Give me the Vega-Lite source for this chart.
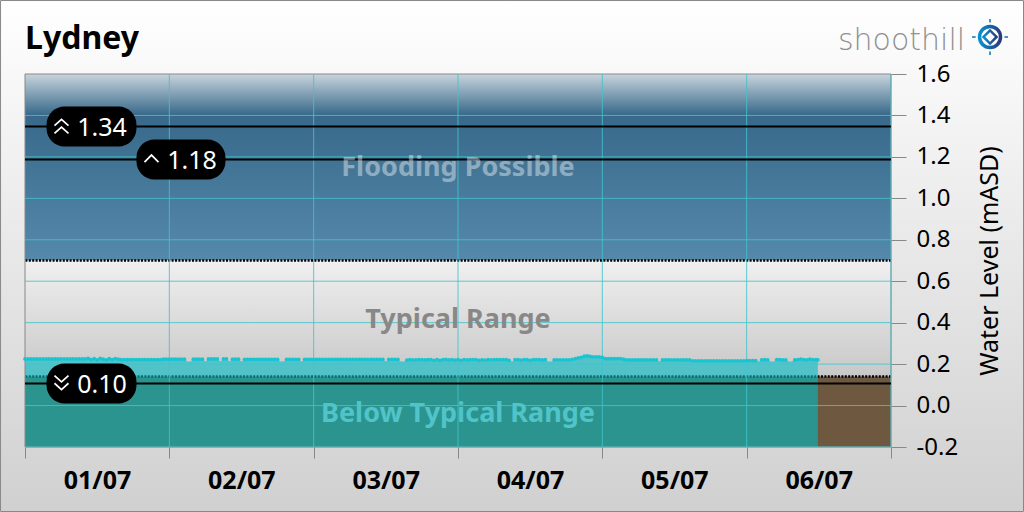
{"$schema":"https://vega.github.io/schema/vega-lite/v6.json","width":866,"height":373,"autosize":{"type":"none"},"padding":{"left":25,"top":74,"right":133,"bottom":65},
"title":{"text":"Lydney","anchor":"start","frame":"group","font":"Noto Sans","fontWeight":"bold","fontSize":32,"color":"#000000","offset":-56},
"config":{"view":{"stroke":null},"font":"Noto Sans"},
"datasets":{
"panel":[{"a":"2021-06-30T19:56:00Z","b":"2021-07-07T22:02:00Z","lo":-0.5113,"hi":1.9546}],
"bands":[{"lo":0.7,"hi":1.6,"zone":"flood"},{"lo":0.14,"hi":0.7,"zone":"typical"},{"lo":-0.2,"hi":0.14,"zone":"below"},{"lo":-0.2,"hi":1.6,"zone":"frame"}],
"dotted":[{"v":0.7},{"v":0.14}],
"gridx":[{"t":"2021-07-02T00:00Z"},{"t":"2021-07-03T00:00Z"},{"t":"2021-07-04T00:00Z"},{"t":"2021-07-05T00:00Z"},{"t":"2021-07-06T00:00Z"},{"t":"2021-07-07T00:00Z"}],
"gridy":[{"v":-0.2},{"v":0},{"v":0.2},{"v":0.4},{"v":0.6},{"v":0.8},{"v":1.0},{"v":1.2},{"v":1.4}],
"thresholds":[{"v":1.347},{"v":1.187},{"v":0.106}],
"zones":[{"t":"2021-07-04T00:00Z","v":1.15,"label":"Flooding Possible","c":"flood"},{"t":"2021-07-04T00:00Z","v":0.42,"label":"Typical Range","c":"typical"},{"t":"2021-07-04T00:00Z","v":-0.035,"label":"Below Typical Range","c":"below"}],
"pills":[{"a":"2021-07-01T03:35Z","b":"2021-07-01T18:32Z","lo":1.2505,"hi":1.4435,"tc":"2021-07-01T12:48Z","v":1.347,"label":"1.34"},{"a":"2021-07-01T18:32Z","b":"2021-07-02T09:20Z","lo":1.0905,"hi":1.2835,"tc":"2021-07-02T03:46Z","v":1.187,"label":"1.18"},{"a":"2021-07-01T03:35Z","b":"2021-07-01T18:32Z","lo":0.0095,"hi":0.2025,"tc":"2021-07-01T12:48Z","v":0.106,"label":"0.10"}],
"water":[
{"t":"2021-07-01T00:00Z","v":0.225},{"t":"2021-07-01T00:30Z","v":0.225},{"t":"2021-07-01T01:00Z","v":0.225},{"t":"2021-07-01T01:30Z","v":0.225},{"t":"2021-07-01T02:00Z","v":0.225},{"t":"2021-07-01T02:30Z","v":0.225},{"t":"2021-07-01T03:00Z","v":0.225},{"t":"2021-07-01T03:30Z","v":0.225},{"t":"2021-07-01T04:00Z","v":0.225},{"t":"2021-07-01T04:30Z","v":0.225},{"t":"2021-07-01T05:00Z","v":0.225},{"t":"2021-07-01T05:30Z","v":0.225},{"t":"2021-07-01T06:00Z","v":0.225},{"t":"2021-07-01T06:30Z","v":0.225},{"t":"2021-07-01T07:00Z","v":0.225},{"t":"2021-07-01T07:30Z","v":0.225},{"t":"2021-07-01T08:00Z","v":0.225},{"t":"2021-07-01T08:30Z","v":0.225},{"t":"2021-07-01T09:00Z","v":0.225},{"t":"2021-07-01T09:30Z","v":0.225},{"t":"2021-07-01T10:00Z","v":0.225},{"t":"2021-07-01T10:30Z","v":0.228},{"t":"2021-07-01T11:00Z","v":0.222},{"t":"2021-07-01T11:30Z","v":0.226},{"t":"2021-07-01T12:00Z","v":0.22},{"t":"2021-07-01T12:30Z","v":0.228},{"t":"2021-07-01T13:00Z","v":0.224},{"t":"2021-07-01T13:30Z","v":0.22},{"t":"2021-07-01T14:00Z","v":0.226},{"t":"2021-07-01T14:30Z","v":0.222},{"t":"2021-07-01T15:00Z","v":0.226},{"t":"2021-07-01T15:30Z","v":0.224},{"t":"2021-07-01T16:00Z","v":0.222},{"t":"2021-07-01T16:30Z","v":0.222},{"t":"2021-07-01T17:00Z","v":0.222},{"t":"2021-07-01T17:30Z","v":0.222},{"t":"2021-07-01T18:00Z","v":0.222},{"t":"2021-07-01T18:30Z","v":0.222},{"t":"2021-07-01T19:00Z","v":0.222},{"t":"2021-07-01T19:30Z","v":0.222},{"t":"2021-07-01T20:00Z","v":0.222},{"t":"2021-07-01T20:30Z","v":0.222},{"t":"2021-07-01T21:00Z","v":0.222},{"t":"2021-07-01T21:30Z","v":0.222},{"t":"2021-07-01T22:00Z","v":0.222},{"t":"2021-07-01T22:30Z","v":0.222},{"t":"2021-07-01T23:00Z","v":0.224},{"t":"2021-07-01T23:30Z","v":0.224},
{"t":"2021-07-02T00:00Z","v":0.224},{"t":"2021-07-02T00:30Z","v":0.224},{"t":"2021-07-02T01:00Z","v":0.224},{"t":"2021-07-02T01:30Z","v":0.224},{"t":"2021-07-02T02:00Z","v":0.224},{"t":"2021-07-02T02:30Z","v":0.224},{"t":"2021-07-02T03:00Z","v":0.213},{"t":"2021-07-02T03:30Z","v":0.213},{"t":"2021-07-02T04:00Z","v":0.224},{"t":"2021-07-02T04:30Z","v":0.224},{"t":"2021-07-02T05:00Z","v":0.224},{"t":"2021-07-02T05:30Z","v":0.224},{"t":"2021-07-02T06:00Z","v":0.213},{"t":"2021-07-02T06:30Z","v":0.225},{"t":"2021-07-02T07:00Z","v":0.225},{"t":"2021-07-02T07:30Z","v":0.225},{"t":"2021-07-02T08:00Z","v":0.225},{"t":"2021-07-02T08:30Z","v":0.213},{"t":"2021-07-02T09:00Z","v":0.225},{"t":"2021-07-02T09:30Z","v":0.225},{"t":"2021-07-02T10:00Z","v":0.213},{"t":"2021-07-02T10:30Z","v":0.224},{"t":"2021-07-02T11:00Z","v":0.224},{"t":"2021-07-02T11:30Z","v":0.224},{"t":"2021-07-02T12:00Z","v":0.213},{"t":"2021-07-02T12:30Z","v":0.223},{"t":"2021-07-02T13:00Z","v":0.223},{"t":"2021-07-02T13:30Z","v":0.223},{"t":"2021-07-02T14:00Z","v":0.223},{"t":"2021-07-02T14:30Z","v":0.223},{"t":"2021-07-02T15:00Z","v":0.223},{"t":"2021-07-02T15:30Z","v":0.223},{"t":"2021-07-02T16:00Z","v":0.223},{"t":"2021-07-02T16:30Z","v":0.223},{"t":"2021-07-02T17:00Z","v":0.223},{"t":"2021-07-02T17:30Z","v":0.223},{"t":"2021-07-02T18:00Z","v":0.223},{"t":"2021-07-02T18:30Z","v":0.213},{"t":"2021-07-02T19:00Z","v":0.213},{"t":"2021-07-02T19:30Z","v":0.223},{"t":"2021-07-02T20:00Z","v":0.223},{"t":"2021-07-02T20:30Z","v":0.223},{"t":"2021-07-02T21:00Z","v":0.223},{"t":"2021-07-02T21:30Z","v":0.223},{"t":"2021-07-02T22:00Z","v":0.213},{"t":"2021-07-02T22:30Z","v":0.223},{"t":"2021-07-02T23:00Z","v":0.223},{"t":"2021-07-02T23:30Z","v":0.223},
{"t":"2021-07-03T00:00Z","v":0.223},{"t":"2021-07-03T00:30Z","v":0.223},{"t":"2021-07-03T01:00Z","v":0.223},{"t":"2021-07-03T01:30Z","v":0.223},{"t":"2021-07-03T02:00Z","v":0.223},{"t":"2021-07-03T02:30Z","v":0.223},{"t":"2021-07-03T03:00Z","v":0.223},{"t":"2021-07-03T03:30Z","v":0.223},{"t":"2021-07-03T04:00Z","v":0.223},{"t":"2021-07-03T04:30Z","v":0.223},{"t":"2021-07-03T05:00Z","v":0.223},{"t":"2021-07-03T05:30Z","v":0.223},{"t":"2021-07-03T06:00Z","v":0.223},{"t":"2021-07-03T06:30Z","v":0.223},{"t":"2021-07-03T07:00Z","v":0.223},{"t":"2021-07-03T07:30Z","v":0.223},{"t":"2021-07-03T08:00Z","v":0.223},{"t":"2021-07-03T08:30Z","v":0.223},{"t":"2021-07-03T09:00Z","v":0.223},{"t":"2021-07-03T09:30Z","v":0.223},{"t":"2021-07-03T10:00Z","v":0.223},{"t":"2021-07-03T10:30Z","v":0.223},{"t":"2021-07-03T11:00Z","v":0.223},{"t":"2021-07-03T11:30Z","v":0.223},{"t":"2021-07-03T12:00Z","v":0.213},{"t":"2021-07-03T12:30Z","v":0.223},{"t":"2021-07-03T13:00Z","v":0.223},{"t":"2021-07-03T13:30Z","v":0.223},{"t":"2021-07-03T14:00Z","v":0.223},{"t":"2021-07-03T14:30Z","v":0.213},{"t":"2021-07-03T15:00Z","v":0.213},{"t":"2021-07-03T15:30Z","v":0.219},{"t":"2021-07-03T16:00Z","v":0.222},{"t":"2021-07-03T16:30Z","v":0.22},{"t":"2021-07-03T17:00Z","v":0.22},{"t":"2021-07-03T17:30Z","v":0.222},{"t":"2021-07-03T18:00Z","v":0.222},{"t":"2021-07-03T18:30Z","v":0.22},{"t":"2021-07-03T19:00Z","v":0.222},{"t":"2021-07-03T19:30Z","v":0.222},{"t":"2021-07-03T20:00Z","v":0.218},{"t":"2021-07-03T20:30Z","v":0.222},{"t":"2021-07-03T21:00Z","v":0.218},{"t":"2021-07-03T21:30Z","v":0.222},{"t":"2021-07-03T22:00Z","v":0.223},{"t":"2021-07-03T22:30Z","v":0.22},{"t":"2021-07-03T23:00Z","v":0.222},{"t":"2021-07-03T23:30Z","v":0.219},
{"t":"2021-07-04T00:00Z","v":0.222},{"t":"2021-07-04T00:30Z","v":0.218},{"t":"2021-07-04T01:00Z","v":0.222},{"t":"2021-07-04T01:30Z","v":0.22},{"t":"2021-07-04T02:00Z","v":0.222},{"t":"2021-07-04T02:30Z","v":0.222},{"t":"2021-07-04T03:00Z","v":0.222},{"t":"2021-07-04T03:30Z","v":0.218},{"t":"2021-07-04T04:00Z","v":0.221},{"t":"2021-07-04T04:30Z","v":0.219},{"t":"2021-07-04T05:00Z","v":0.222},{"t":"2021-07-04T05:30Z","v":0.221},{"t":"2021-07-04T06:00Z","v":0.222},{"t":"2021-07-04T06:30Z","v":0.222},{"t":"2021-07-04T07:00Z","v":0.222},{"t":"2021-07-04T07:30Z","v":0.222},{"t":"2021-07-04T08:00Z","v":0.222},{"t":"2021-07-04T08:30Z","v":0.218},{"t":"2021-07-04T09:00Z","v":0.213},{"t":"2021-07-04T09:30Z","v":0.222},{"t":"2021-07-04T10:00Z","v":0.222},{"t":"2021-07-04T10:30Z","v":0.219},{"t":"2021-07-04T11:00Z","v":0.222},{"t":"2021-07-04T11:30Z","v":0.222},{"t":"2021-07-04T12:00Z","v":0.218},{"t":"2021-07-04T12:30Z","v":0.222},{"t":"2021-07-04T13:00Z","v":0.222},{"t":"2021-07-04T13:30Z","v":0.222},{"t":"2021-07-04T14:00Z","v":0.22},{"t":"2021-07-04T14:30Z","v":0.222},{"t":"2021-07-04T15:00Z","v":0.213},{"t":"2021-07-04T15:30Z","v":0.213},{"t":"2021-07-04T16:00Z","v":0.221},{"t":"2021-07-04T16:30Z","v":0.221},{"t":"2021-07-04T17:00Z","v":0.221},{"t":"2021-07-04T17:30Z","v":0.221},{"t":"2021-07-04T18:00Z","v":0.221},{"t":"2021-07-04T18:30Z","v":0.221},{"t":"2021-07-04T19:00Z","v":0.223},{"t":"2021-07-04T19:30Z","v":0.226},{"t":"2021-07-04T20:00Z","v":0.23},{"t":"2021-07-04T20:30Z","v":0.233},{"t":"2021-07-04T21:00Z","v":0.238},{"t":"2021-07-04T21:30Z","v":0.24},{"t":"2021-07-04T22:00Z","v":0.237},{"t":"2021-07-04T22:30Z","v":0.235},{"t":"2021-07-04T23:00Z","v":0.235},{"t":"2021-07-04T23:30Z","v":0.235},
{"t":"2021-07-05T00:00Z","v":0.233},{"t":"2021-07-05T00:30Z","v":0.226},{"t":"2021-07-05T01:00Z","v":0.226},{"t":"2021-07-05T01:30Z","v":0.226},{"t":"2021-07-05T02:00Z","v":0.226},{"t":"2021-07-05T02:30Z","v":0.226},{"t":"2021-07-05T03:00Z","v":0.226},{"t":"2021-07-05T03:30Z","v":0.224},{"t":"2021-07-05T04:00Z","v":0.22},{"t":"2021-07-05T04:30Z","v":0.22},{"t":"2021-07-05T05:00Z","v":0.22},{"t":"2021-07-05T05:30Z","v":0.22},{"t":"2021-07-05T06:00Z","v":0.22},{"t":"2021-07-05T06:30Z","v":0.22},{"t":"2021-07-05T07:00Z","v":0.22},{"t":"2021-07-05T07:30Z","v":0.22},{"t":"2021-07-05T08:00Z","v":0.22},{"t":"2021-07-05T08:30Z","v":0.22},{"t":"2021-07-05T09:00Z","v":0.22},{"t":"2021-07-05T09:30Z","v":0.212},{"t":"2021-07-05T10:00Z","v":0.22},{"t":"2021-07-05T10:30Z","v":0.22},{"t":"2021-07-05T11:00Z","v":0.22},{"t":"2021-07-05T11:30Z","v":0.22},{"t":"2021-07-05T12:00Z","v":0.22},{"t":"2021-07-05T12:30Z","v":0.22},{"t":"2021-07-05T13:00Z","v":0.22},{"t":"2021-07-05T13:30Z","v":0.22},{"t":"2021-07-05T14:00Z","v":0.22},{"t":"2021-07-05T14:30Z","v":0.22},{"t":"2021-07-05T15:00Z","v":0.216},{"t":"2021-07-05T15:30Z","v":0.216},{"t":"2021-07-05T16:00Z","v":0.216},{"t":"2021-07-05T16:30Z","v":0.216},{"t":"2021-07-05T17:00Z","v":0.216},{"t":"2021-07-05T17:30Z","v":0.216},{"t":"2021-07-05T18:00Z","v":0.216},{"t":"2021-07-05T18:30Z","v":0.216},{"t":"2021-07-05T19:00Z","v":0.216},{"t":"2021-07-05T19:30Z","v":0.216},{"t":"2021-07-05T20:00Z","v":0.216},{"t":"2021-07-05T20:30Z","v":0.216},{"t":"2021-07-05T21:00Z","v":0.216},{"t":"2021-07-05T21:30Z","v":0.216},{"t":"2021-07-05T22:00Z","v":0.216},{"t":"2021-07-05T22:30Z","v":0.216},{"t":"2021-07-05T23:00Z","v":0.216},{"t":"2021-07-05T23:30Z","v":0.216},
{"t":"2021-07-06T00:00Z","v":0.217},{"t":"2021-07-06T00:30Z","v":0.217},{"t":"2021-07-06T01:00Z","v":0.217},{"t":"2021-07-06T01:30Z","v":0.217},{"t":"2021-07-06T02:00Z","v":0.212},{"t":"2021-07-06T02:30Z","v":0.22},{"t":"2021-07-06T03:00Z","v":0.222},{"t":"2021-07-06T03:30Z","v":0.22},{"t":"2021-07-06T04:00Z","v":0.212},{"t":"2021-07-06T04:30Z","v":0.212},{"t":"2021-07-06T05:00Z","v":0.222},{"t":"2021-07-06T05:30Z","v":0.222},{"t":"2021-07-06T06:00Z","v":0.22},{"t":"2021-07-06T06:30Z","v":0.22},{"t":"2021-07-06T07:00Z","v":0.212},{"t":"2021-07-06T07:30Z","v":0.212},{"t":"2021-07-06T08:00Z","v":0.22},{"t":"2021-07-06T08:30Z","v":0.222},{"t":"2021-07-06T09:00Z","v":0.224},{"t":"2021-07-06T09:30Z","v":0.222},{"t":"2021-07-06T10:00Z","v":0.22},{"t":"2021-07-06T10:30Z","v":0.224},{"t":"2021-07-06T11:00Z","v":0.222},{"t":"2021-07-06T11:30Z","v":0.222},{"t":"2021-07-06T11:50Z","v":0.22}
]},
"encoding":{"x":{"field":"t","type":"temporal","title":null,"scale":{"type":"utc","domain":["2021-07-01T00:00:00Z","2021-07-07T00:00:00Z"],"nice":false},"axis":{"zindex":1,"values":["2021-07-01T00:00:00Z","2021-07-02T00:00:00Z","2021-07-03T00:00:00Z","2021-07-04T00:00:00Z","2021-07-05T00:00:00Z","2021-07-06T00:00:00Z","2021-07-07T00:00:00Z"],"format":"%d/%m","labelExpr":"utcdate(datum.value)==7 ? '' : utcFormat(datum.value,'%d/%m')","labelOffset":72,"labelFont":"Noto Sans","labelFontWeight":"bold","labelFontSize":25,"labelColor":"#000000","tickColor":"#888888","tickSize":11,"tickWidth":1,"labelPadding":10,"grid":false,"domain":false,"labelFlush":false,"labelOverlap":false,"labelAngle":0}},
"y":{"field":"v","type":"quantitative","title":"Water Level (mASD)","scale":{"domain":[-0.2,1.6],"nice":false,"zero":false},"axis":{"zindex":1,"orient":"right","values":[-0.2,0,0.2,0.4,0.6,0.8,1.0,1.2,1.4,1.6],"labelExpr":"replace(format(datum.value,'.1f'),'−','-')","labelFont":"Noto Sans","labelFontSize":24,"labelColor":"#000000","tickColor":"#888888","tickSize":15,"tickWidth":1,"labelPadding":10,"grid":false,"domain":false,"labelFlush":false,"labelOverlap":false,"titleFont":"Noto Sans","titleFontSize":25,"titleFontWeight":"normal","titleColor":"#000000","titleAngle":270,"titlePadding":45}}},
"layer":[
{"data":{"name":"panel"},"mark":{"type":"rect","stroke":"#888888","strokeWidth":1,"fill":{"gradient":"linear","x1":0,"y1":0,"x2":0,"y2":1,"stops":[{"offset":0,"color":"#ffffff"},{"offset":1,"color":"#d0d0d0"}]}},"encoding":{"x":{"field":"a","type":"temporal"},"x2":{"field":"b"},"y":{"field":"lo","type":"quantitative"},"y2":{"field":"hi"}}},
{"data":{"name":"bands"},"transform":[{"filter":"datum.zone=='flood'"}],"mark":{"type":"rect","fill":{"gradient":"linear","x1":0,"y1":0,"x2":0,"y2":1,"stops":[{"offset":0,"color":"#c8d4dc"},{"offset":0.22,"color":"#38698a"},{"offset":1,"color":"#5589ab"}]}},"encoding":{"x":null,"y":{"field":"lo","type":"quantitative"},"y2":{"field":"hi"}}},
{"data":{"name":"bands"},"transform":[{"filter":"datum.zone=='typical'"}],"mark":{"type":"rect","fill":{"gradient":"linear","x1":0,"y1":0,"x2":0,"y2":1,"stops":[{"offset":0,"color":"#f0f0f0"},{"offset":1,"color":"#c8c8c8"}]}},"encoding":{"x":null,"y":{"field":"lo","type":"quantitative"},"y2":{"field":"hi"}}},
{"data":{"name":"bands"},"transform":[{"filter":"datum.zone=='below'"}],"mark":{"type":"rect","fill":"#6f5840"},"encoding":{"x":null,"y":{"field":"lo","type":"quantitative"},"y2":{"field":"hi"}}},
{"data":{"name":"dotted"},"mark":{"type":"rule","stroke":"#000000","strokeWidth":2.5,"strokeDash":[2,1.4]},"encoding":{"x":null}},
{"data":{"name":"water"},"mark":{"type":"area","fill":"#00bcc5","opacity":0.6},"encoding":{"y2":{"datum":-0.2}}},
{"data":{"name":"bands"},"transform":[{"filter":"datum.zone=='frame'"}],"mark":{"type":"rect","fillOpacity":0,"stroke":"#888888","strokeWidth":1},"encoding":{"x":null,"y":{"field":"lo","type":"quantitative"},"y2":{"field":"hi"}}},
{"data":{"name":"gridx"},"mark":{"type":"rule","stroke":"#40c4cc","strokeWidth":1,"opacity":0.85},"encoding":{"y":null}},
{"data":{"name":"gridy"},"mark":{"type":"rule","stroke":"#40c4cc","strokeWidth":1,"opacity":0.85},"encoding":{"x":null}},
{"data":{"name":"water"},"transform":[{"filter":"datum.v>=0.215"}],"mark":{"type":"point","filled":true,"fill":"#18c4d0","size":14,"opacity":1}},
{"data":{"name":"thresholds"},"mark":{"type":"rule","stroke":"#000000","strokeWidth":2},"encoding":{"x":null}},
{"data":{"name":"zones"},"transform":[{"filter":"datum.c=='flood'"}],"mark":{"type":"text","font":"Noto Sans","fontWeight":"bold","fontSize":27,"fill":"#ffffff","opacity":0.4,"dy":1},"encoding":{"text":{"field":"label"}}},
{"data":{"name":"zones"},"transform":[{"filter":"datum.c=='typical'"}],"mark":{"type":"text","font":"Noto Sans","fontWeight":"bold","fontSize":27,"fill":"#888888","dy":1},"encoding":{"text":{"field":"label"}}},
{"data":{"name":"zones"},"transform":[{"filter":"datum.c=='below'"}],"mark":{"type":"text","font":"Noto Sans","fontWeight":"bold","fontSize":27,"fill":"#50c4c8","dy":1},"encoding":{"text":{"field":"label"}}},
{"data":{"name":"pills"},"mark":{"type":"rect","fill":"#000000","cornerRadius":18},"encoding":{"x":{"field":"a","type":"temporal"},"x2":{"field":"b"},"y":{"field":"lo","type":"quantitative"},"y2":{"field":"hi"}}},
{"data":{"name":"pills"},"mark":{"type":"text","font":"Noto Sans","fontSize":25,"fill":"#ffffff","dy":1.5},"encoding":{"x":{"field":"tc","type":"temporal"},"text":{"field":"label"}}},
{"data":{"values":[{"t":"2021-07-01T06:04:00Z","v":1.347}]},"mark":{"type":"point","shape":"M-1,-0.1L0,-1L1,-0.1M-1,1L0,0.1L1,1","filled":false,"stroke":"#ffffff","strokeWidth":1.7,"size":196,"opacity":1}},
{"data":{"values":[{"t":"2021-07-01T21:02:00Z","v":1.192}]},"mark":{"type":"point","shape":"M-1,0.5L0,-0.5L1,0.5","filled":false,"stroke":"#ffffff","strokeWidth":1.7,"size":196,"opacity":1}},
{"data":{"values":[{"t":"2021-07-01T06:04:00Z","v":0.111}]},"mark":{"type":"point","shape":"M-1,-1L0,-0.1L1,-1M-1,0.1L0,1L1,0.1","filled":false,"stroke":"#ffffff","strokeWidth":1.7,"size":196,"opacity":1}},
{"data":{"values":[{"t":"2021-07-07T01:45:00Z","v":1.76,"label":"shoothill"}]},"mark":{"type":"text","font":"DejaVu Sans","fontWeight":200,"fontSize":30,"fill":"#909090"},"encoding":{"text":{"field":"label"}}},
{"data":{"values":[{"t":"2021-07-07T16:28:00Z","v":1.7786}]},"mark":{"type":"point","shape":"circle","filled":false,"strokeWidth":3.5,"size":441,"opacity":1,"stroke":{"gradient":"linear","x1":0,"y1":0,"x2":1,"y2":0,"stops":[{"offset":0,"color":"#0a90d0"},{"offset":1,"color":"#2a3a80"}]}}},
{"data":{"values":[{"t":"2021-07-07T16:28:00Z","v":1.7786}]},"mark":{"type":"point","shape":"diamond","filled":false,"strokeWidth":2.5,"size":170,"opacity":1,"stroke":{"gradient":"linear","x1":0,"y1":0,"x2":1,"y2":0,"stops":[{"offset":0,"color":"#0a90d0"},{"offset":1,"color":"#2a3a80"}]}}},
{"data":{"values":[{"t":"2021-07-07T16:28:00Z","v":1.7786}]},"mark":{"type":"point","shape":"M-1,0L-0.8,0M0.8,0L1,0M0,-1L0,-0.8M0,0.8L0,1","filled":false,"stroke":"#1270b0","strokeWidth":1.5,"size":1296,"opacity":1}}
]}
